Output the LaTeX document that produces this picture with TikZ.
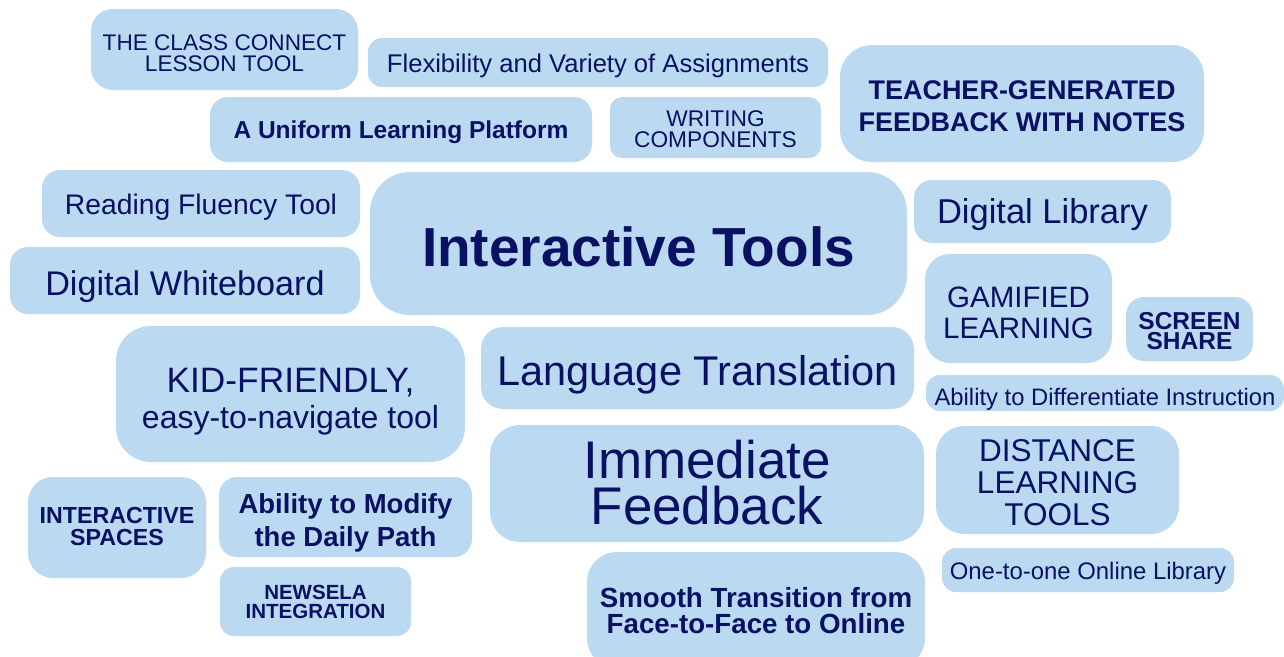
\documentclass[tikz,border=0pt]{standalone}
\usepackage{fontspec}
\setmainfont{Liberation Sans}
\definecolor{boxfill}{HTML}{BBDAF2}
\definecolor{ink}{HTML}{0A1062}
\newcommand\tfs[2]{\fontsize{#1}{#2}\selectfont}
\begin{document}
\begin{tikzpicture}[x=1pt,y=-1pt,
  tile/.style={fill=boxfill, draw=none, inner sep=0pt, rounded corners=#1},
  tile/.default=16pt,
  txt/.style={text=ink, align=center, inner sep=0pt}]
\useasboundingbox (0,0) rectangle (1284,656);
% top row
\node[tile=22pt, minimum width=267pt, minimum height=81pt] (classconnect) at (224.5,49.5) {};
\node[txt, font=\tfs{22.6}{21}] (classconnect-t) at (224.5,53.5) {THE CLASS CONNECT\\LESSON TOOL};
\node[tile=14pt, minimum width=460pt, minimum height=49pt] (flex) at (598,62.5) {};
\node[txt, font=\tfs{25.6}{28}] (flex-t) at (598,65.5) {Flexibility and Variety of Assignments};
\node[tile=18pt, minimum width=382pt, minimum height=65pt] (uniform) at (401,129.5) {};
\node[txt, font=\bfseries\tfs{24.5}{26}] (uniform-t) at (401,132.5) {A Uniform Learning Platform};
\node[tile=12pt, minimum width=211pt, minimum height=61pt] (writing) at (715.5,127.5) {};
\node[txt, font=\tfs{22.7}{21}] (writing-t) at (715.5,129.5) {WRITING\\COMPONENTS};
\node[tile=32pt, minimum width=364pt, minimum height=117pt] (teacher) at (1022,103.5) {};
\node[txt, font=\bfseries\tfs{27}{32}] (teacher-t) at (1022,106.5) {TEACHER-GENERATED\\FEEDBACK WITH NOTES};
% middle
\node[tile=18pt, minimum width=318pt, minimum height=67pt] (reading) at (201,203.5) {};
\node[txt, font=\tfs{28.3}{30}] (reading-t) at (201,207.5) {Reading Fluency Tool};
\node[tile=18pt, minimum width=350pt, minimum height=67pt] (whiteboard) at (185,280.5) {};
\node[txt, font=\tfs{34.2}{36}] (whiteboard-t) at (185,286.5) {Digital Whiteboard};
\node[tile=40pt, minimum width=537pt, minimum height=143pt] (interactive) at (638.5,243.5) {};
\node[txt, font=\bfseries\tfs{55}{58}] (interactive-t) at (638.5,246.5) {Interactive Tools};
\node[tile=18pt, minimum width=257pt, minimum height=63pt] (library) at (1042.5,211.5) {};
\node[txt, font=\tfs{34.5}{36}] (library-t) at (1042.5,214.5) {Digital Library};
\node[tile=25pt, minimum width=187pt, minimum height=109pt] (gamified) at (1018.5,308.5) {};
\node[txt, font=\tfs{29.5}{31}] (gamified-t) at (1018.5,312.5) {GAMIFIED\\LEARNING};
\node[tile=18pt, minimum width=127pt, minimum height=64pt] (screen) at (1189.5,329) {};
\node[txt, font=\bfseries\tfs{24.5}{20.5}] (screen-t) at (1189.5,331) {SCREEN\\SHARE};
\node[tile=14pt, minimum width=358pt, minimum height=36pt] (differentiate) at (1105,393) {};
\node[txt, font=\tfs{23.8}{25}] (differentiate-t) at (1105,399) {Ability to Differentiate Instruction};
\node[tile=35pt, minimum width=349pt, minimum height=136pt] (kid) at (290.5,394) {};
\node[txt, font=\tfs{35.3}{36}] (kid-t) at (290.5,401.5) {KID-FRIENDLY,\\\tfs{32}{34}easy-to-navigate tool};
\node[tile=22pt, minimum width=433pt, minimum height=82pt] (language) at (697.5,368) {};
\node[txt, font=\tfs{41.5}{44}] (language-t) at (697.5,375) {Language Translation};
\node[tile=30pt, minimum width=434pt, minimum height=117pt] (immediate) at (707,483.5) {};
\node[txt, font=\tfs{53}{46}] (immediate-t) at (707,483) {Immediate\\Feedback};
\node[tile=28pt, minimum width=243pt, minimum height=108pt] (distance) at (1057.5,480) {};
\node[txt, font=\tfs{31.5}{32}] (distance-t) at (1057.5,483) {DISTANCE\\LEARNING\\TOOLS};
% bottom
\node[tile=25pt, minimum width=178pt, minimum height=101pt] (ispaces) at (117,527.5) {};
\node[txt, font=\bfseries\tfs{23.2}{22}] (ispaces-t) at (117,526.5) {INTERACTIVE\\SPACES};
\node[tile=18pt, minimum width=253pt, minimum height=80pt] (modify) at (345.5,517) {};
\node[txt, font=\bfseries\tfs{27.5}{33}] (modify-t) at (345.5,523) {Ability to Modify\\the Daily Path};
\node[tile=14pt, minimum width=191pt, minimum height=69pt] (newsela) at (315.5,601.5) {};
\node[txt, font=\bfseries\tfs{20.5}{19}] (newsela-t) at (315.5,601.5) {NEWSELA\\INTEGRATION};
\node[tile=30pt, minimum width=338pt, minimum height=116pt] (smooth) at (756,610) {};
\node[txt, font=\bfseries\tfs{27.7}{26}] (smooth-t) at (756,611) {Smooth Transition from\\Face-to-Face to Online};
\node[tile=14pt, minimum width=292pt, minimum height=44pt] (online) at (1088,570) {};
\node[txt, font=\tfs{23.9}{25}] (online-t) at (1088,573) {One-to-one Online Library};
\end{tikzpicture}
\end{document}
